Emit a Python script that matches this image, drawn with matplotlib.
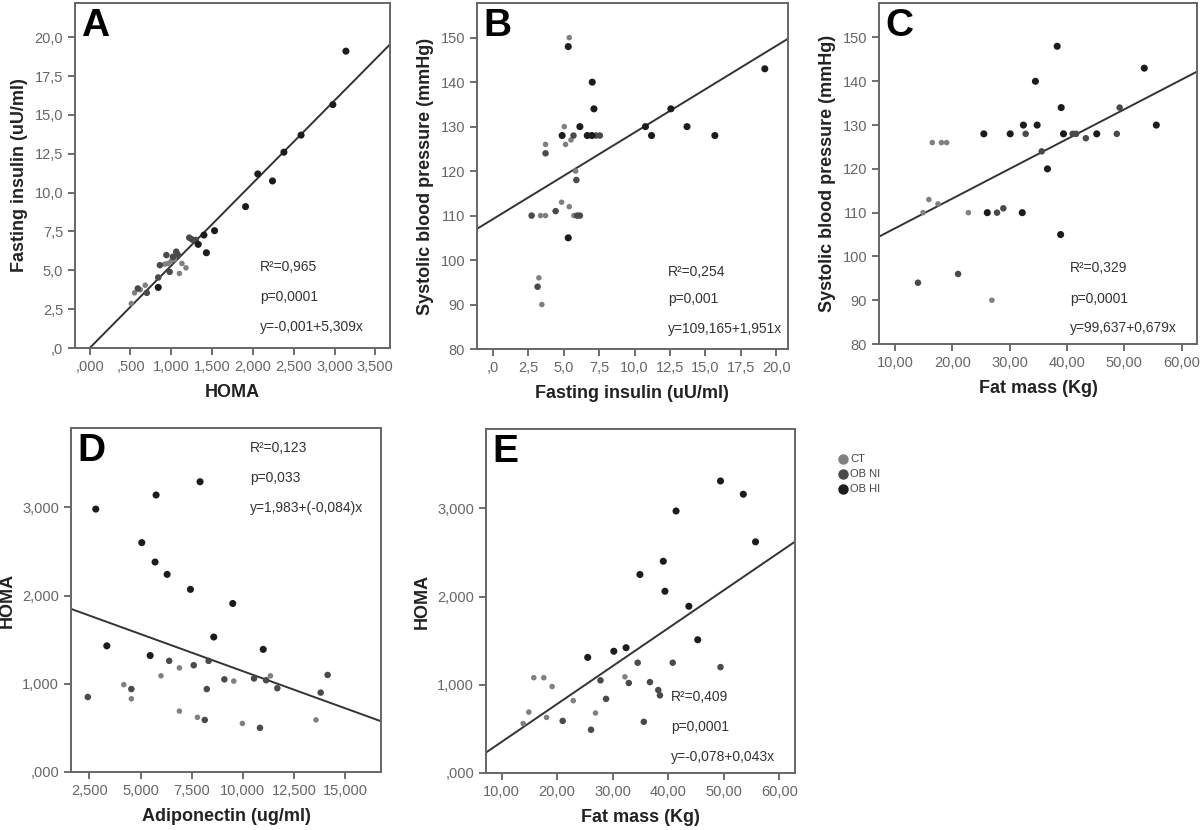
import numpy as np
import matplotlib
matplotlib.use("Agg")
import matplotlib.pyplot as plt
from matplotlib.lines import Line2D

plt.rcParams['font.family'] = ['Liberation Sans', 'DejaVu Sans']

# group colours: CT, OB NI, OB HI
grp_names = ["CT", "OB NI", "OB HI"]
grp_codes = ["C", "N", "H"]
grp_colors = ["#808080", "#4a4a4a", "#1c1c1c"]
grp_sizes = [16, 22, 26]

# A: HOMA vs fasting insulin
homa_a = [0.51, 0.55, 0.59, 0.62, 0.68, 0.70, 0.84, 0.84, 0.86, 0.92, 0.94, 0.96,
          0.98, 1.00, 1.02, 1.04, 1.06, 1.08, 1.10, 1.13, 1.18, 1.22, 1.25, 1.28,
          1.30, 1.33, 1.40, 1.43, 1.53, 1.91, 2.06, 2.24, 2.38, 2.59, 2.98, 3.14]
ins_a = [2.86, 3.55, 3.83, 3.75, 4.04, 3.55, 4.54, 3.90, 5.33, 5.40, 5.98, 5.44,
         4.90, 5.60, 5.87, 5.70, 6.20, 6.00, 4.80, 5.44, 5.16, 7.10, 7.00, 6.90,
         6.95, 6.67, 7.27, 6.13, 7.55, 9.10, 11.20, 10.75, 12.60, 13.70, 15.66, 19.10]
grp_a = "CCNCCNNHNCNCNCNCNNCCCNNNNHHHHHHHHHHH"

# B: fasting insulin vs systolic BP
ins_b = [19.18, 12.56, 10.77, 11.2, 13.7, 15.66, 7.02, 7.14, 6.67, 7.0, 7.3, 7.56,
         6.15, 5.4, 5.33, 5.05, 4.9, 5.14, 5.52, 5.7, 3.73, 3.73, 5.85, 5.9,
         2.75, 3.38, 3.73, 4.44, 4.86, 5.4, 5.73, 5.96, 6.15, 5.33, 3.26, 3.17, 3.47]
sbp_b = [143, 134, 130, 128, 130, 128, 140, 134, 128, 128, 128, 128,
         130, 150, 148, 130, 128, 126, 127, 128, 126, 124, 120, 118,
         110, 110, 110, 111, 113, 112, 110, 110, 110, 105, 96, 94, 90]
grp_b = "HHHHHHHHHHNNHCHCHCCNCNCNNCCNCCCNNHCNC"

# C: fat mass vs systolic BP
fat_c = [53.5, 38.3, 34.5, 39.0, 49.2, 55.6, 32.4, 34.8, 25.5, 30.1, 32.8, 39.4,
         41.0, 41.6, 45.2, 48.7, 43.3, 35.6, 36.6, 16.5, 18.1, 19.0, 15.9, 17.5,
         14.9, 22.8, 26.1, 27.8, 28.9, 32.2, 38.9, 21.0, 14.0, 26.9]
sbp_c = [143, 148, 140, 134, 134, 130, 130, 130, 128, 128, 128, 128,
         128, 128, 128, 128, 127, 124, 120, 126, 126, 126, 113, 112,
         110, 110, 110, 110, 111, 110, 105, 96, 94, 90]
grp_c = "HHHHNHHHHHNHNNHNNNHCCCCCCCHNNHHNNC"

# D: adiponectin vs HOMA
adipo_d = [2.81, 2.42, 3.35, 4.18, 4.55, 4.55, 5.06, 5.76, 5.71, 5.47, 6.30, 6.40,
           6.00, 6.90, 6.90, 7.44, 7.91, 7.60, 7.78, 8.14, 8.24, 8.33, 8.58, 9.10,
           9.56, 9.51, 9.98, 10.55, 10.84, 11.00, 11.14, 11.35, 11.69, 13.58, 13.81, 14.15]
homa_d = [2.98, 0.85, 1.43, 0.99, 0.94, 0.83, 2.60, 3.14, 2.38, 1.32, 2.24, 1.26,
          1.09, 1.18, 0.69, 2.07, 3.29, 1.21, 0.62, 0.59, 0.94, 1.26, 1.53, 1.05,
          1.03, 1.91, 0.55, 1.06, 0.50, 1.39, 1.04, 1.09, 0.95, 0.59, 0.90, 1.10]
grp_d = "HNHCNCHHHHHNCCCHHNCNNNHNCHCNNHNCNCNN"

# E: fat mass vs HOMA
fat_e = [49.4, 53.5, 41.4, 55.7, 39.1, 34.9, 39.4, 43.7, 45.3, 25.5, 30.2, 32.4,
         34.5, 40.8, 49.4, 15.8, 17.6, 19.1, 27.8, 32.2, 32.9, 36.7, 38.2, 38.5,
         22.9, 28.8, 14.9, 18.1, 21.0, 13.9, 26.9, 26.1, 35.6]
homa_e = [3.31, 3.16, 2.97, 2.62, 2.40, 2.25, 2.06, 1.89, 1.51, 1.31, 1.38, 1.42,
          1.25, 1.25, 1.20, 1.08, 1.08, 0.98, 1.05, 1.09, 1.02, 1.03, 0.94, 0.88,
          0.82, 0.84, 0.69, 0.63, 0.59, 0.56, 0.68, 0.49, 0.58]
grp_e = "HHHHHHHHHHHHNNNCCCNCNNNNCNCCNCCNN"

# regression fits (intercept, slope)
fit_a = (-0.001, 5.309)
fit_b = (109.165, 1.951)
fit_c = (99.637, 0.679)
fit_d = (1.983, -0.084)
fit_e = (-0.078, 0.043)

stats_a = ["R²=0,965", "p=0,0001", "y=-0,001+5,309x"]
stats_b = ["R²=0,254", "p=0,001", "y=109,165+1,951x"]
stats_c = ["R²=0,329", "p=0,0001", "y=99,637+0,679x"]
stats_d = ["R²=0,123", "p=0,033", "y=1,983+(-0,084)x"]
stats_e = ["R²=0,409", "p=0,0001", "y=-0,078+0,043x"]

# ticks
xt_a = [0, 0.5, 1.0, 1.5, 2.0, 2.5, 3.0, 3.5]
xl_a = [",000", ",500", "1,000", "1,500", "2,000", "2,500", "3,000", "3,500"]
yt_a = [0, 2.5, 5, 7.5, 10, 12.5, 15, 17.5, 20]
yl_a = [",0", "2,5", "5,0", "7,5", "10,0", "12,5", "15,0", "17,5", "20,0"]
xt_b = yt_a
xl_b = yl_a
yt_bp = [80, 90, 100, 110, 120, 130, 140, 150]
yl_bp = ["80", "90", "100", "110", "120", "130", "140", "150"]
xt_fat = [10, 20, 30, 40, 50, 60]
xl_fat = ["10,00", "20,00", "30,00", "40,00", "50,00", "60,00"]
xt_d = [2.5, 5, 7.5, 10, 12.5, 15]
xl_d = ["2,500", "5,000", "7,500", "10,000", "12,500", "15,000"]
yt_homa = [0, 1, 2, 3]
yl_homa = [",000", "1,000", "2,000", "3,000"]

fig = plt.figure(figsize=(12, 8.3), dpi=100)


def panel(rect, x, y, grp, fit, stats, letter, xlim, ylim, xt, xl, yt, yl,
          xlabel, ylabel, tx, ty):
    ax = fig.add_axes(rect)
    x = np.asarray(x)
    y = np.asarray(y)
    g = np.array(list(grp))
    for code, col, s in zip(grp_codes, grp_colors, grp_sizes):
        m = g == code
        ax.scatter(x[m], y[m], s=s, color=col, edgecolors='none', zorder=3)
    xs = np.array(xlim)
    ax.plot(xs, fit[0] + fit[1] * xs, color="#333333", lw=1.4, zorder=2)
    ax.set_xlim(xlim)
    ax.set_ylim(ylim)
    ax.set_xticks(xt)
    ax.set_xticklabels(xl)
    ax.set_yticks(yt)
    ax.set_yticklabels(yl)
    ax.tick_params(direction='out', length=5, width=1.2, color="#555555",
                   labelcolor="#666666", labelsize=10.5)
    for sp in ax.spines.values():
        sp.set_color("#666666")
        sp.set_linewidth(1.4)
    ax.set_xlabel(xlabel, fontsize=13, fontweight='bold', color="#222222", labelpad=7)
    ax.set_ylabel(ylabel, fontsize=13, fontweight='bold', color="#222222", labelpad=5)
    ax.text(0.02, 0.985, letter, transform=ax.transAxes, fontsize=28,
            fontweight='bold', va='top', ha='left', color="black")
    for t, yy in zip(stats, ty):
        ax.text(tx, yy, t, transform=ax.transAxes, fontsize=10, color="#333333",
                va='center', ha='left')
    return ax


panel([0.0625, 0.5807, 0.2625, 0.4157], homa_a, ins_a, grp_a, fit_a, stats_a, "A",
      (-0.18, 3.68), (0, 22.2), xt_a, xl_a, yt_a, yl_a,
      "HOMA", "Fasting insulin (uU/ml)", 0.587, [0.235, 0.148, 0.061])
panel([0.3975, 0.5795, 0.259, 0.4169], ins_b, sbp_b, grp_b, fit_b, stats_b, "B",
      (-1.1, 20.8), (80, 157.8), xt_b, xl_b, yt_bp, yl_bp,
      "Fasting insulin (uU/ml)", "Systolic blood pressure (mmHg)", 0.614, [0.223, 0.145, 0.058])
panel([0.7325, 0.5855, 0.265, 0.411], fat_c, sbp_c, grp_c, fit_c, stats_c, "C",
      (7.2, 62.7), (80, 157.9), xt_fat, xl_fat, yt_bp, yl_bp,
      "Fat mass (Kg)", "Systolic blood pressure (mmHg)", 0.60, [0.223, 0.132, 0.047])
panel([0.0592, 0.0699, 0.2583, 0.4145], adipo_d, homa_d, grp_d, fit_d, stats_d, "D",
      (1.6, 16.76), (0, 3.9), xt_d, xl_d, yt_homa, yl_homa,
      "Adiponectin (ug/ml)", "HOMA", 0.577, [0.942, 0.855, 0.767])
panel([0.405, 0.0687, 0.2575, 0.4145], fat_e, homa_e, grp_e, fit_e, stats_e, "E",
      (7.2, 62.8), (0, 3.9), xt_fat, xl_fat, yt_homa, yl_homa,
      "Fat mass (Kg)", "HOMA", 0.599, [0.221, 0.134, 0.047])

handles = [Line2D([], [], marker='o', ls='none', color=c, markersize=6.5)
           for c in grp_colors]
fig.legend(handles, grp_names, loc='upper left', bbox_to_anchor=(0.693, 1 - 450 / 830),
           frameon=False, fontsize=8, handletextpad=0.1, labelspacing=0.45,
           handlelength=1.2, borderaxespad=0, labelcolor="#444444")

fig.savefig("out.png", dpi=100)
